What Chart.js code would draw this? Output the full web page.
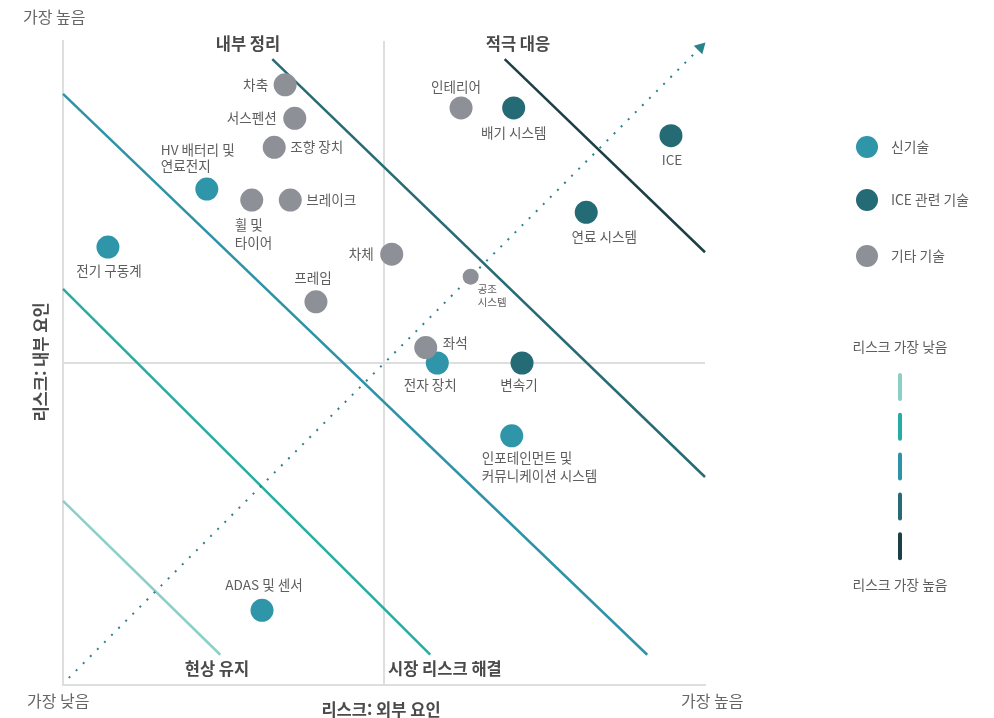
<!DOCTYPE html>
<html lang="ko">
<head>
<meta charset="UTF-8">
<title>리스크 매트릭스</title>
<script src="https://cdn.jsdelivr.net/npm/chart.js"></script>
<style>
  html, body { margin: 0; padding: 0; background: #fff; }
  .wrap { position: relative; width: 994px; height: 718px; }
</style>
</head>
<body>
<div class="wrap"><canvas id="riskChart" width="994" height="718"></canvas></div>
<script>
// 신기술
const newTechNames = ['HV 배터리 및\n연료전지', '전기 구동계', '전자 장치', '인포테인먼트 및\n커뮤니케이션 시스템', 'ADAS 및 센서'];
const newTechX = [2.24, 0.70, 5.83, 6.99, 3.10];
const newTechY = [7.70, 6.80, 5.00, 3.87, 1.16];

// ICE 관련 기술
const iceNames = ['배기 시스템', 'ICE', '연료 시스템', '변속기'];
const iceX = [7.02, 9.47, 8.15, 7.15];
const iceY = [8.96, 8.53, 7.34, 5.00];

// 기타 기술
const otherNames = ['차축', '서스펜션', '조향 장치', '휠 및\n타이어', '브레이크', '차체', '프레임', '인테리어', '공조\n시스템', '좌석'];
const otherX = [3.46, 3.61, 3.29, 2.94, 3.54, 5.12, 3.94, 6.20, 6.35, 5.65];
const otherY = [9.32, 8.80, 8.35, 7.53, 7.53, 6.69, 5.95, 8.96, 6.34, 5.24];
const smallPoints = ['공조\n시스템'];

// 리스크 구간 경계선 (낮음 -> 높음), 시작점과 끝점
const bandStartX = [0, 0, 0, 3.26, 6.88];
const bandStartY = [2.86, 6.15, 9.18, 9.72, 9.72];
const bandEndX = [2.45, 5.72, 9.10, 10, 10];
const bandEndY = [0.47, 0.47, 0.47, 3.23, 6.72];

// 점선 화살표
const trendX = [0.09, 9.93];
const trendY = [0.11, 9.90];

const colNew = '#2e96a8';
const colIce = '#246b76';
const colOther = '#8e9098';
const bandColors = ['#8ccfc7', '#25ada2', '#2e93a7', '#286b75', '#1d3f46'];
const labelColor = '#5e5e5e';
const titleColor = '#4a4a4a';
const fontFam = '"Noto Sans CJK KR", "Noto Sans", sans-serif';

// 라벨 위치 (점 중심 기준 px)
const labelPlace = {
  'HV 배터리 및\n연료전지': { dx: -46, dy: -39, align: 'left', lh: 16 },
  '전기 구동계': { dx: 1, dy: 24, align: 'center' },
  '전자 장치': { dx: -7, dy: 22, align: 'center' },
  '인포테인먼트 및\n커뮤니케이션 시스템': { dx: -30, dy: 22, align: 'left', lh: 18 },
  'ADAS 및 센서': { dx: 2, dy: -25, align: 'center' },
  '배기 시스템': { dx: 0, dy: 25, align: 'center' },
  'ICE': { dx: 1, dy: 24, align: 'center' },
  '연료 시스템': { dx: 18, dy: 25, align: 'center' },
  '변속기': { dx: -3, dy: 22, align: 'center' },
  '차축': { dx: -17, dy: 0, align: 'right' },
  '서스펜션': { dx: -18, dy: 0, align: 'right' },
  '조향 장치': { dx: 16, dy: 0, align: 'left' },
  '휠 및\n타이어': { dx: -17, dy: 25, align: 'left', lh: 18 },
  '브레이크': { dx: 16, dy: 0, align: 'left' },
  '차체': { dx: -18, dy: 0, align: 'right' },
  '프레임': { dx: -3, dy: -24, align: 'center' },
  '인테리어': { dx: -5, dy: -21, align: 'center' },
  '공조\n시스템': { dx: 7, dy: 12, align: 'left', lh: 13, size: 10.5 },
  '좌석': { dx: 17, dy: -5, align: 'left' }
};

function toPoints(xs, ys) {
  return xs.map((x, i) => ({ x: x, y: ys[i] }));
}

const datasets = [];
bandStartX.forEach((sx, i) => {
  datasets.push({
    type: 'scatter',
    data: [{ x: sx, y: bandStartY[i] }, { x: bandEndX[i], y: bandEndY[i] }],
    showLine: true,
    borderColor: bandColors[i],
    borderWidth: 2.5,
    pointRadius: 0,
    clip: false,
    order: 10
  });
});
datasets.push({
  type: 'scatter',
  data: toPoints(trendX, trendY),
  showLine: true,
  borderColor: '#2a838a',
  borderWidth: 2,
  borderDash: [2, 8],
  pointRadius: [0, 7],
  pointStyle: 'triangle',
  pointRotation: 45,
  pointBackgroundColor: '#2a838a',
  pointBorderWidth: 0,
  clip: false,
  order: 9
});
datasets.push({
  label: '신기술', names: newTechNames,
  data: toPoints(newTechX, newTechY),
  backgroundColor: colNew, borderWidth: 0, pointRadius: 11.5, clip: false, order: 2
});
datasets.push({
  label: 'ICE 관련 기술', names: iceNames,
  data: toPoints(iceX, iceY),
  backgroundColor: colIce, borderWidth: 0, pointRadius: 11.5, clip: false, order: 2
});
datasets.push({
  label: '기타 기술', names: otherNames,
  data: toPoints(otherX, otherY),
  backgroundColor: colOther, borderWidth: 0,
  pointRadius: otherNames.map(n => smallPoints.includes(n) ? 8 : 11.5),
  clip: false, order: 1
});

const pointLabels = {
  id: 'pointLabels',
  afterDatasetsDraw(chart) {
    const ctx = chart.ctx;
    ctx.save();
    ctx.fillStyle = labelColor;
    ctx.textBaseline = 'middle';
    chart.data.datasets.forEach((ds, di) => {
      if (!ds.names) return;
      const meta = chart.getDatasetMeta(di);
      meta.data.forEach((pt, i) => {
        const p = labelPlace[ds.names[i]];
        if (!p) return;
        ctx.font = (p.size || 13.6) + 'px ' + fontFam;
        ctx.textAlign = p.align;
        ds.names[i].split('\n').forEach((line, li) => {
          ctx.fillText(line, pt.x + p.dx, pt.y + p.dy + li * (p.lh || 16));
        });
      });
    });
    ctx.restore();
  },
  afterDraw(chart) {
    const ctx = chart.ctx;
    const a = chart.chartArea;
    ctx.save();
    ctx.textBaseline = 'middle';

    // 사분면 제목
    ctx.fillStyle = titleColor;
    ctx.font = 'bold 16.5px ' + fontFam;
    ctx.textAlign = 'center';
    ctx.fillText('내부 정리', 248, a.top + 3);
    ctx.fillText('적극 대응', 518, a.top + 3);
    ctx.fillText('현상 유지', 217, a.bottom - 16);
    ctx.textAlign = 'left';
    ctx.fillText('시장 리스크 해결', 388, a.bottom - 16);

    // 축 제목
    ctx.textAlign = 'center';
    ctx.fillText('리스크: 외부 요인', 381, 710);
    ctx.save();
    ctx.translate(41, 362);
    ctx.rotate(-Math.PI / 2);
    ctx.fillText('리스크: 내부 요인', 0, 0);
    ctx.restore();

    // 축 끝 라벨
    ctx.fillStyle = '#666';
    ctx.font = '16px ' + fontFam;
    ctx.textAlign = 'left';
    ctx.fillText('가장 높음', 23, 17);
    ctx.fillText('가장 낮음', 27, 701);
    ctx.fillText('가장 높음', 681, 701);

    // 범례: 기술 구분
    const legendItems = [[colNew, '신기술'], [colIce, 'ICE 관련 기술'], [colOther, '기타 기술']];
    const legendY = [147, 200, 256];
    ctx.font = '13.8px ' + fontFam;
    legendItems.forEach((item, i) => {
      ctx.fillStyle = item[0];
      ctx.beginPath();
      ctx.arc(867, legendY[i], 11, 0, Math.PI * 2);
      ctx.fill();
      ctx.fillStyle = labelColor;
      ctx.fillText(item[1], 891, legendY[i]);
    });

    // 범례: 리스크 수준
    ctx.textAlign = 'center';
    ctx.fillText('리스크 가장 낮음', 900, 347);
    ctx.fillText('리스크 가장 높음', 900, 585);
    ctx.lineWidth = 4;
    ctx.lineCap = 'round';
    bandColors.forEach((c, i) => {
      const y0 = 375 + i * 39.8;
      ctx.strokeStyle = c;
      ctx.beginPath();
      ctx.moveTo(900, y0);
      ctx.lineTo(900, y0 + 24);
      ctx.stroke();
    });
    ctx.restore();
  }
};

const gridColor = '#dedede';
function gridLine(c) {
  return c.tick && c.tick.value === 10 ? 'rgba(0,0,0,0)' : gridColor;
}

Chart.defaults.font.family = fontFam;

new Chart(document.getElementById('riskChart').getContext('2d'), {
  type: 'scatter',
  data: { datasets: datasets },
  options: {
    responsive: false,
    animation: false,
    layout: { padding: { left: 63, top: 41, right: 289, bottom: 33 } },
    scales: {
      x: {
        min: 0, max: 10,
        ticks: { display: false, stepSize: 5 },
        grid: { drawTicks: false, color: gridLine, lineWidth: 2 },
        border: { display: true, color: gridColor, width: 2 }
      },
      y: {
        min: 0, max: 10,
        ticks: { display: false, stepSize: 5 },
        grid: { drawTicks: false, color: gridLine, lineWidth: 2 },
        border: { display: true, color: gridColor, width: 2 }
      }
    },
    plugins: {
      legend: { display: false },
      tooltip: { enabled: false }
    }
  },
  plugins: [pointLabels]
});
</script>
</body>
</html>
